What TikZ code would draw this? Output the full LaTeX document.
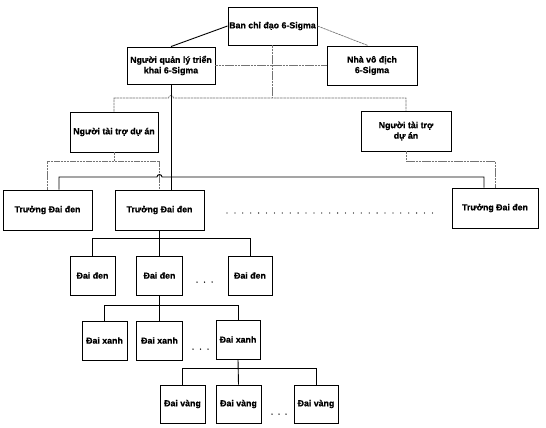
\documentclass[tikz,border=0pt]{standalone}
\usepackage{fontspec}
\setmainfont[FakeBold=0.6]{Liberation Sans}
\usetikzlibrary{calc}
\begin{document}
\begin{tikzpicture}[x=1pt,y=1pt,
  box/.style={draw=black, line width=0.9pt, fill=white, align=center, inner sep=0pt,
    font=\fontsize{8.8}{10.5}\selectfont\bfseries},
  sz/.style 2 args={minimum width=#1pt, minimum height=#2pt},
  sl/.style={draw=black, line width=0.9pt},
  gl/.style={draw=black!55, line width=0.7pt, dash pattern=on 2.5pt off 0.7pt},
  dotrow/.style={line width=1.3pt, line cap=round, dash pattern=on 0pt off 7.9pt}]
\useasboundingbox (0,0) rectangle (546,-428);
\fill[white] (0,0) rectangle (546,-428);
% nodes
\node[box, sz={89}{38}] (ban) at (272.5,-26) {Ban chỉ đạo 6-Sigma};
\node[box, sz={88}{37}] (ql) at (171,-65.5) {Người quản lý triển\\khai 6-Sigma};
\node[box, sz={90}{39}] (nvd) at (372,-65.5) {Nhà vô địch\\6-Sigma};
\node[box, sz={88}{40}] (tt1) at (114,-132) {Người tài trợ dự án};
\node[box, sz={90}{40}] (tt2) at (406,-131) {Người tài trợ\\dự án};
\node[box, sz={89}{40}] (td1) at (47.5,-210) {Trưởng Đai đen};
\node[box, sz={89}{40}] (td2) at (159.5,-210) {Trưởng Đai đen};
\node[box, sz={86}{40}] (td3) at (495,-208) {Trưởng Đai đen};
\node[box, sz={45}{39}] (dd1) at (92.5,-275.5) {Đai đen};
\node[box, sz={46}{39}] (dd2) at (159.5,-275.5) {Đai đen};
\node[box, sz={44}{39}] (dd3) at (250,-275.5) {Đai đen};
\node[box, sz={45}{39}] (dx1) at (104.5,-340.5) {Đai xanh};
\node[box, sz={46}{39}] (dx2) at (159.5,-340.5) {Đai xanh};
\node[box, sz={44}{39}] (dx3) at (238,-339.5) {Đai xanh};
\node[box, sz={45}{38}] (dv1) at (182.5,-404) {Đai vàng};
\node[box, sz={45}{38}] (dv2) at (238.5,-404) {Đai vàng};
\node[box, sz={44}{38}] (dv3) at (316,-404) {Đai vàng};
% levels
\coordinate (y1) at (0,-98);
\coordinate (y2) at (0,-177);
\coordinate (y3) at (0,-161);
\coordinate (y4) at (0,-238);
\coordinate (y5) at (0,-305);
\coordinate (y6) at (0,-368);
% upper connectors
\draw[sl] (ban.west) -- (ql.north);
\draw[gl] (ban.east) -- ($(nvd.north)+(-4,0)$);
\draw[gl] (ql.east) -- (nvd.west);
\draw[gl] (ban.south) -- (ban.south |- y1);
\draw[gl] (tt1.north) -- (tt1.north |- y1) -- ($(ql.south |- y1)+(-2.5,0)$)
  arc[start angle=180,end angle=0,radius=2.5] -| (tt2.north);
\draw[sl] (ql.south) -- (ql.south |- td2.north);
\draw[gl] (tt1.south) -- (tt1.south |- y3);
\draw[gl] (td1.north) -- (td1.north |- y3) -| (td2.north);
\draw[gl] (tt2.south) -- (tt2.south |- y3) -| (td3.north);
\draw[sl] ($(td1.north)+(11.5,0)$) -- ($(td1.north |- y2)+(11.5,0)$)
  -- ($(td2.north |- y2)+(-2.5,0)$) arc[start angle=180,end angle=0,radius=2.5]
  -| ($(td3.north)+(-11,0)$);
% lower connectors
\draw[sl] (td2.south) -- (dd2.north);
\draw[sl] (dd1.north) -- (dd1.north |- y4) -| (dd3.north);
\draw[sl] (dd2.south) -- (dx2.north);
\draw[sl] (dx1.north) -- (dx1.north |- y5) -| (dx3.north);
\draw[sl] (dx3.south) -- (dv2.north);
\draw[sl] (dv1.north) -- (dv1.north |- y6) -| (dv3.north);
% dots
\coordinate (dA) at (227,-213);
\coordinate (dB) at (434,-213);
\draw[dotrow] (dA) -- (dB);
\foreach \x in {197,204.5,212} \fill (\x,-282) circle (0.75);
\foreach \x in {193,200.5,208} \fill (\x,-349) circle (0.75);
\foreach \x in {272,279,286} \fill (\x,-414) circle (0.75);
\end{tikzpicture}
\end{document}
